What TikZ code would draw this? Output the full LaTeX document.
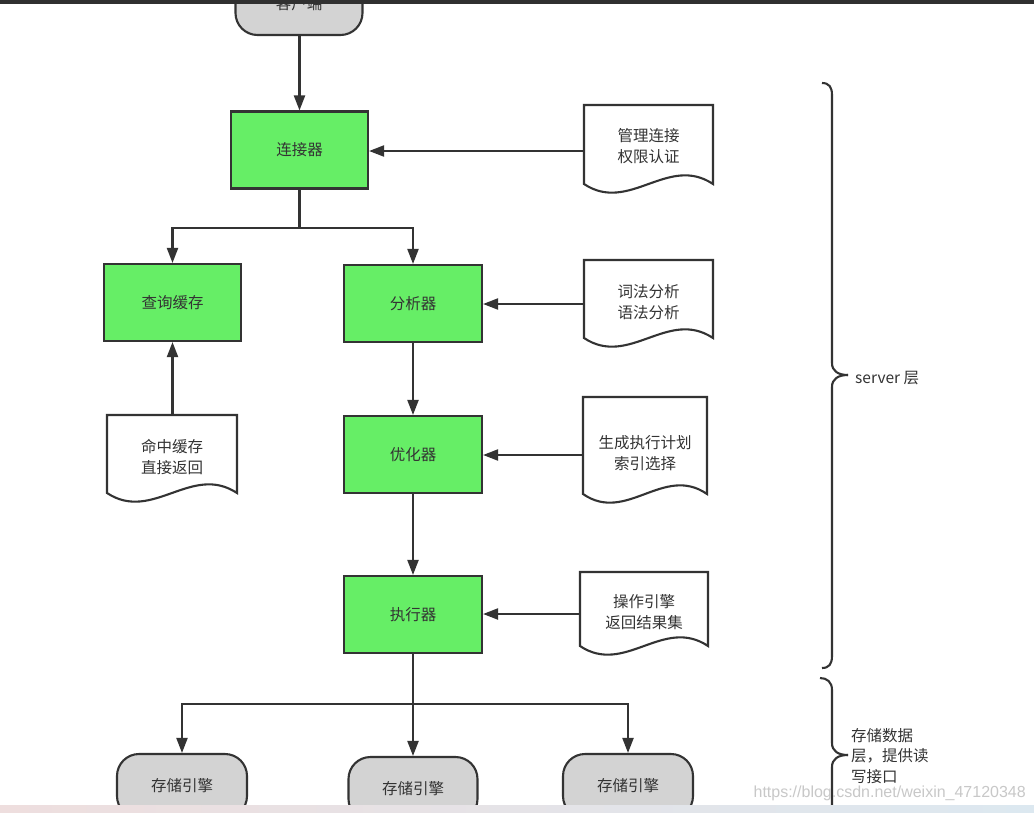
\documentclass[tikz,border=0pt]{standalone}
\usepackage{fontspec}
\setmainfont{Noto Sans CJK SC}
\newfontfamily\wmfont{Liberation Sans}
\usetikzlibrary{arrows.meta}
\definecolor{boxgreen}{RGB}{102,238,102}
\definecolor{termgray}{RGB}{211,211,211}
\definecolor{ink}{RGB}{51,51,51}
\definecolor{wmgray}{RGB}{200,200,200}
\definecolor{stripa}{RGB}{238,222,222}
\definecolor{stripb}{RGB}{220,232,240}
\tikzset{
  cjk/.style={font=\fontsize{15.5}{20.5}\selectfont, text=ink},
  proc/.style={cjk, draw=ink, line width=2.1pt, fill=boxgreen, minimum width=137pt, minimum height=77pt, inner sep=0pt},
  term/.style={cjk, draw=ink, line width=2.1pt, fill=termgray, rounded corners=22pt, minimum width=130pt, minimum height=64pt, inner sep=0pt},
  docframe/.style={inner sep=0pt},
  doctext/.style={cjk, align=center, inner sep=0pt},
  docline/.style={draw=ink, line width=2.1pt, fill=white},
  wire/.style={draw=ink, line width=2.1pt},
  arr/.style={wire, -{Triangle[length=15pt,width=11pt]}},
  bracepath/.style={draw=ink, line width=2.1pt}
}
% #1 name, #2 x0, #3 x1, #4 top, #5 wave base, #6 text y, #7 text
\newcommand\docshape[7]{%
  \draw[docline] (#2,#5) -- (#2,#4) -- (#3,#4) -- (#3,#5)
    .. controls ({#3-0.35*(#3-#2)},{#5-30}) and ({#2+0.35*(#3-#2)},{#5+30}) .. (#2,#5) -- cycle;
  \node[docframe, minimum width={#3-#2}, minimum height={#5-#4}] (#1) at ({(#2+#3)/2},{(#4+#5)/2}) {};
  \node[doctext] (#1t) at ({(#2+#3)/2},#6) {#7};
}
\begin{document}
\begin{tikzpicture}[x=1pt,y=-1pt]
\useasboundingbox (0,0) rectangle (1034,812);
\clip (0,0) rectangle (1034,812);
\fill[white] (0,0) rectangle (1034,812);

% client
\node[term, minimum width=127pt, minimum height=62pt] (client) at (299,4) {客户端};

% main chain
\node[proc] (conn) at (299.5,150) {连接器};
\node[proc] (cache) at (172.5,302.5) {查询缓存};
\node[proc, minimum width=138pt] (parser) at (413,303.5) {分析器};
\node[proc, minimum width=138pt] (opt) at (413,454.5) {优化器};
\node[proc, minimum width=138pt] (exec) at (413,614.5) {执行器};

% documents
\docshape{d1}{584}{713}{105}{184}{146}{管理连接\\权限认证}
\docshape{d2}{584}{713}{260}{338}{302}{词法分析\\语法分析}
\docshape{d3}{107}{237}{415}{493}{457}{命中缓存\\直接返回}
\docshape{d4}{583}{707}{397}{494}{453}{生成执行计划\\索引选择}
\docshape{d5}{580}{708}{572}{646}{612}{操作引擎\\返回结果集}

% storage engines
\node[term] (s1) at (182,786) {存储引擎};
\node[term, minimum width=129pt] (s2) at (413,789) {存储引擎};
\node[term] (s3) at (628,786) {存储引擎};

% connectors
\draw[arr] (client.south -| conn.north) -- (conn.north);
\draw[wire] (conn.south) -- ++(0,38) coordinate (split1);
\draw[arr] (split1) -| (cache.north);
\draw[arr] (split1) -| (parser.north);
\draw[arr] (d1.west |- 0,151) -- (conn.east |- 0,151);
\draw[arr] (d2.west |- 0,304) -- (parser.east |- 0,304);
\draw[arr] (d3.north -| cache.south) -- (cache.south);
\draw[arr] (parser.south) -- (opt.north);
\draw[arr] (d4.west |- 0,455) -- (opt.east |- 0,455);
\draw[arr] (opt.south) -- (exec.north);
\draw[arr] (d5.west |- 0,614) -- (exec.east |- 0,614);
\draw[wire] (exec.south) -- (exec.south |- 0,704) coordinate (split2);
\draw[arr] (split2) -| (s1.north);
\draw[arr] (split2) -- (s2.north);
\draw[arr] (split2) -| (s3.north);

% braces
\draw[bracepath] (822,83) .. controls (829,83) and (832,87) .. (832,95) -- (832,363)
  .. controls (832,371) and (838,375) .. (848,375);
\draw[bracepath] (848,375) .. controls (838,375) and (832,379) .. (832,387) -- (832,656)
  .. controls (832,664) and (829,668) .. (822,668);
\draw[bracepath] (820,678) .. controls (827,678) and (832,682) .. (832,690) -- (832,743)
  .. controls (832,751) and (838,755) .. (848,755);
\draw[bracepath] (848,755) .. controls (838,755) and (832,759) .. (832,767) -- (832,820);
\node[cjk, anchor=west, inner sep=0pt] (serverlbl) at (855,378) {server 层};
\node[cjk, anchor=west, align=left, inner sep=0pt] (storelbl) at (851,756) {存储数据\\层，提供读\\写接口};

% watermark
\node[anchor=east, inner sep=0pt, text=wmgray, font=\wmfont\fontsize{16}{18}\selectfont] (wm) at (1026,793) {https://blog.csdn.net/weixin\_47120348};

% screenshot edges
\fill[ink!95!black] (0,0) rectangle (1034,3.5);
\shade[left color=stripa, right color=stripb] (0,805.5) rectangle (1034,812);
\end{tikzpicture}
\end{document}
